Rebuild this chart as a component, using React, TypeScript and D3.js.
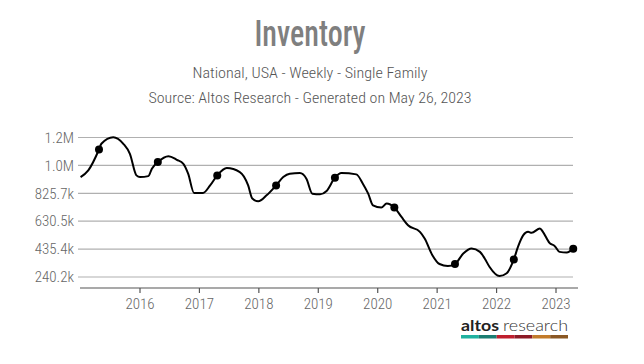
import React from 'react'
import * as d3 from 'd3'

// weekly inventory (thousands of single family homes), decimal year
const dates = [
  2015.0, 2015.13, 2015.31, 2015.35, 2015.55, 2015.72, 2015.83, 2015.94,
  2016.0, 2016.14, 2016.2, 2016.3, 2016.48, 2016.62, 2016.73, 2016.81, 2016.91,
  2017.06, 2017.18, 2017.3, 2017.46, 2017.68, 2017.82, 2017.89, 2017.99,
  2018.13, 2018.29, 2018.41, 2018.52, 2018.69, 2018.8, 2018.9,
  2019.03, 2019.14, 2019.28, 2019.39, 2019.64, 2019.75, 2019.84, 2019.92,
  2020.06, 2020.15, 2020.28, 2020.4, 2020.51, 2020.71, 2020.79, 2020.92,
  2021.04, 2021.18, 2021.3, 2021.44, 2021.58, 2021.72, 2021.8, 2021.88,
  2022.05, 2022.17, 2022.29, 2022.36, 2022.45, 2022.53, 2022.59, 2022.73,
  2022.78, 2022.89, 2022.98, 2023.06, 2023.18, 2023.29
]
const inventory = [
  939, 986, 1132, 1172, 1218, 1172, 1102, 951,
  939, 946, 998, 1044, 1085, 1060, 1032, 963, 828,
  828, 881, 951, 1002, 974, 881, 789, 770,
  812, 881, 939, 963, 967, 928, 823,
  819, 842, 935, 967, 958, 893, 823, 742,
  726, 754, 726, 660, 602, 556, 510, 393,
  331, 317, 331, 405, 440, 416, 370, 312,
  247, 266, 363, 451, 533, 556, 549, 580,
  556, 479, 456, 416, 412, 437
]
// same week each year
const markerDates = [2015.31, 2016.3, 2017.3, 2018.29, 2019.28, 2020.28, 2021.3, 2022.29, 2023.29]

const yTicks = [240.2, 435.4, 630.5, 825.7, 1020.8, 1216]
const yTickLabels = ['240.2k', '435.4k', '630.5k', '825.7k', '1.0M', '1.2M']
const xTicks = [2016, 2017, 2018, 2019, 2020, 2021, 2022, 2023]
const logoColors = ['#20b2a0', '#1a7d72', '#bf1f2e', '#8c1a25', '#c27b2b', '#8a5825']

const W = 644, H = 364
const narrow = "'Roboto Condensed', 'Liberation Sans Narrow', 'Arial Narrow', sans-serif"

export default function App() {
  const x = d3.scaleLinear().domain([2016, 2023]).range([140, 556])
  const y = d3.scaleLinear().domain([240.2, 1216]).range([277, 137.5])

  const points = dates.map((d, i) => [d, inventory[i]] as [number, number])
  const line = d3.line<[number, number]>()
    .x(d => x(d[0]))
    .y(d => y(d[1]))
    .curve(d3.curveMonotoneX)

  const markers = points.filter(p => markerDates.includes(p[0]))

  const left = 80, right = 573, axisY = 288
  const logoX = d3.scaleLinear().domain([0, logoColors.length]).range([461, 568])

  return (
    <svg width={W} height={H} style={{ position: 'absolute', left: 0, top: 0, background: '#fff' }}>
      <text x={310} y={46} textAnchor='middle' fontFamily={narrow} fontSize={36} fontWeight={500}
        fill='#7f7f7f' textLength={111} lengthAdjust='spacingAndGlyphs'>Inventory</text>
      <text x={310} y={77.5} textAnchor='middle' fontFamily={narrow} fontSize={15.5} fontWeight={300}
        fill='#555' textLength={235} lengthAdjust='spacingAndGlyphs'>National, USA - Weekly - Single Family</text>
      <text x={310} y={103} textAnchor='middle' fontFamily={narrow} fontSize={15.5} fontWeight={300}
        fill='#555' textLength={323} lengthAdjust='spacingAndGlyphs'>Source: Altos Research - Generated on May 26, 2023</text>

      <g>
        {yTicks.map((t, i) => (
          <g key={t}>
            <line x1={left - 2} x2={right} y1={y(t)} y2={y(t)} stroke='#b0b0b0' strokeWidth={1.2} />
            <text x={74} y={y(t)} dy='0.35em' textAnchor='end' fontFamily={narrow}
              fontSize={15} fontWeight={300} fill='#666'>{yTickLabels[i]}</text>
          </g>
        ))}
      </g>

      <line x1={left} x2={578} y1={axisY} y2={axisY} stroke='#555' strokeWidth={1.2} />
      {xTicks.map(t => (
        <g key={t}>
          <line x1={x(t)} x2={x(t)} y1={axisY} y2={axisY + 5} stroke='#555' strokeWidth={1.2} />
          <text x={x(t)} y={309} textAnchor='middle' fontFamily={narrow} fontSize={15}
            fontWeight={300} fill='#666'>{t}</text>
        </g>
      ))}

      <path d={line(points) || ''} fill='none' stroke='#000' strokeWidth={2} strokeLinejoin='round' />
      {markers.map(m => (
        <circle key={m[0]} cx={x(m[0])} cy={y(m[1])} r={4} fill='#000' />
      ))}

      <g>
        <text x={461} y={331} fontFamily="Lato, 'DejaVu Sans', sans-serif" fontWeight={700} fontSize={16}
          fill='#222' textLength={38} lengthAdjust='spacingAndGlyphs'>altos</text>
        <text x={503} y={331} fontFamily="Lato, 'DejaVu Sans', sans-serif" fontWeight={300} fontSize={16}
          fill='#333' textLength={65} lengthAdjust='spacingAndGlyphs'>research</text>
        {logoColors.map((c, i) => (
          <rect key={c} x={logoX(i)} y={335} width={logoX(i + 1) - logoX(i)} height={3.5} fill={c} />
        ))}
      </g>
    </svg>
  )
}
